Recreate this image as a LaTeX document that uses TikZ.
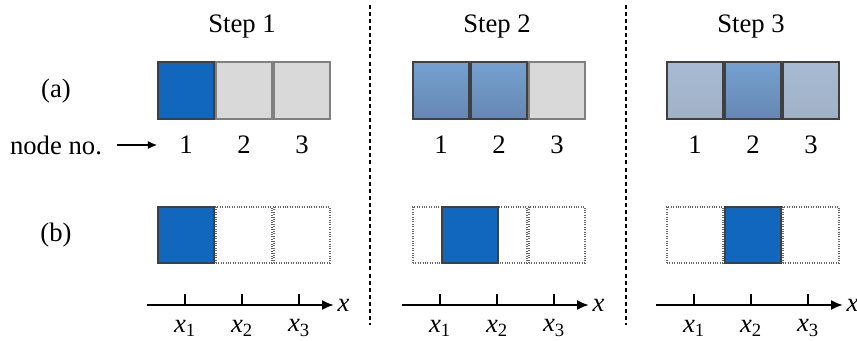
\documentclass[tikz,border=0pt]{standalone}
\usepackage{fontspec}
\setmainfont{Liberation Serif}
\usetikzlibrary{arrows.meta, calc}
\definecolor{cellblue}{HTML}{1166BE}
\definecolor{cellgray}{HTML}{D9D9D9}
\definecolor{midtop}{HTML}{74A1D0}
\definecolor{midbot}{HTML}{6787B2}
\definecolor{lighttop}{HTML}{A8BBD4}
\definecolor{lightbot}{HTML}{A0B1C7}
\tikzset{
	grid cells/.cd,
	cell/.style = {
		draw = black!75,
		line width = 0.9pt,
		minimum width = 42pt,
		minimum height = 42.75pt,
		inner sep = 0pt
	},
	axis/.style = {
		line width = 1.5pt,
		-{Latex[length = 9pt, width = 7.5pt]}
	},
}

\begin{document}
\begin{tikzpicture}[
		x = 0.75pt, y = -0.75pt,
		font = \rmfamily\fontsize{20}{24}\selectfont,
		cell/.style = {grid cells/cell},
		empty/.style = {cell, fill = cellgray, draw = black!50},
		hot/.style = {cell, fill = cellblue},
		warm/.style = {cell, top color = midtop, bottom color = midbot},
		cool/.style = {cell, top color = lighttop, bottom color = lightbot},
		ghost/.style = {cell, minimum height = 42pt, draw = black!60, line width = 0.8pt, densely dotted},
		divider/.style = {line width = 2pt, dash pattern = on 3pt off 2.3pt},
		pointer/.style = {line width = 1.2pt, -{Latex[length = 7pt, width = 6pt]}}
	]
	\useasboundingbox (0, 0) rectangle (857, 341);

	% row labels
	\node (lbla) at (56, 91) {(a)};
	\node (nodeno) at (56, 145) {node no.};
	\node (lblb) at (56, 235) {(b)};

	% panels
	\foreach \p/\dx in {1/0, 2/255, 3/509} {
		\node (step\p) at (242 + \dx, 27) {Step \p};
		\foreach \i/\cx/\tx in {1/186/185, 2/244/242, 3/302/299} {
			\node (n\p\i) at (\cx + \dx, 145) {\i};
			\node[ghost] (b\p\i) at (\cx + \dx, 235) {};
			\coordinate (t\p\i) at (\tx + \dx, 305);
			\draw[line width = 1.2pt] (t\p\i) -- ++(0, -11);
			\node (x\p\i) at (\tx + \dx, 328) {\textit{x}\textsubscript{\i}};
		}
		\coordinate (s\p) at (147 + \dx, 305);
		\coordinate (e\p) at (334 + \dx, 305);
		\draw[grid cells/axis] (s\p) -- (e\p) node[right, inner sep = 2pt] {\textit{x}};
	}

	% step 1
	\node[hot] (a11) at (186, 90.5) {};
	\node[empty] (a12) at (244, 90.5) {};
	\node[empty] (a13) at (302, 90.5) {};
	\node[hot, minimum height = 42pt] (c1) at (186, 235) {};

	% step 2
	\node[warm] (a21) at (441, 90.5) {};
	\node[warm] (a22) at (499, 90.5) {};
	\node[empty] (a23) at (557, 90.5) {};
	\node[hot, minimum height = 42pt] (c2) at ($(b21)!0.5!(b22)$) {};

	% step 3
	\node[cool] (a31) at (695, 90.5) {};
	\node[warm] (a32) at (753, 90.5) {};
	\node[cool] (a33) at (811, 90.5) {};
	\node[hot, minimum height = 42pt] (c3) at (b32) {};

	\draw[pointer, shorten < = 8pt, shorten > = 13pt] (nodeno.east) -- (n11.west);

	\coordinate (d1t) at (370, 5);
	\coordinate (d1b) at (370, 325);
	\coordinate (d2t) at (626, 5);
	\coordinate (d2b) at (626, 325);
	\draw[divider] (d1t) -- (d1b);
	\draw[divider] (d2t) -- (d2b);
\end{tikzpicture}
\end{document}
